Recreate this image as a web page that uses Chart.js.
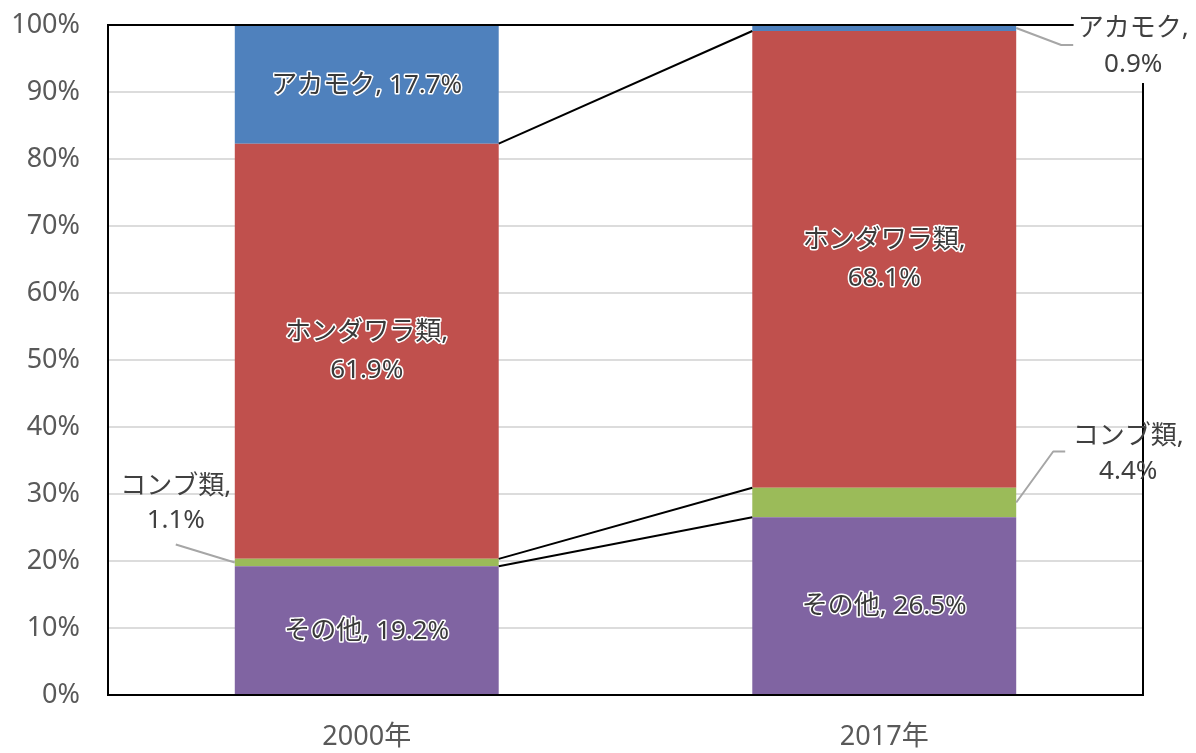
<!DOCTYPE html>
<html lang="ja">
<head>
<meta charset="utf-8">
<script src="https://cdn.jsdelivr.net/npm/chart.js@4/dist/chart.umd.min.js"></script>
<style>
  html, body { margin: 0; padding: 0; background: #fff; }
</style>
</head>
<body>
<canvas id="myChart" width="1196" height="753"></canvas>
<script>
const years = ['2000年', '2017年'];
const seriesNames = ['その他', 'コンブ類', 'ホンダワラ類', 'アカモク'];
const sonota = [19.2, 26.5];
const konbu = [1.1, 4.4];
const hondawara = [61.9, 68.1];
const akamoku = [17.7, 0.9];
const seriesColors = ['#8064A2', '#9BBB59', '#C0504D', '#4F81BD'];

const FONT = '"Noto Sans", "Noto Sans CJK JP", sans-serif';
const raw = [sonota, konbu, hondawara, akamoku];

// 100% stacked: share of each year's total
const totals = years.map((_, j) => raw.reduce((s, arr) => s + arr[j], 0));
const shares = raw.map(arr => arr.map((v, j) => v / totals[j] * 100));

// labels that sit beside the bar with a leader line (series-year)
const callouts = {
    '1-0': { side: -1, dx: 59, y1: -76, y2: -42, lead: [[0, 0], [-59, -18]] },
    '1-1': { side: 1, dx: 112, y1: -66, y2: -31, lead: [[0, 0], [37, -51], [49, -51]] },
    '3-1': { side: 1, dx: 117, y1: 1, y2: 37, lead: [[0, 0], [45, 17], [57, 17]], box: true }
};
const wrapped = [2];

function drawOutlined(ctx, text, x, y) {
    ctx.strokeText(text, x, y);
    ctx.fillText(text, x, y);
}

const plotFrame = {
    id: 'plotFrame',
    afterDatasetsDraw(chart) {
        const a = chart.chartArea;
        const ctx = chart.ctx;
        ctx.save();
        ctx.strokeStyle = '#000';
        ctx.lineWidth = 2;
        ctx.strokeRect(a.left, a.top, a.right - a.left, a.bottom - a.top);

        // series lines between the bars
        chart.data.datasets.forEach((ds, i) => {
            const bars = chart.getDatasetMeta(i).data;
            for (let j = 0; j < bars.length - 1; j++) {
                const p = bars[j], q = bars[j + 1];
                ctx.beginPath();
                ctx.moveTo(p.x + p.width / 2, p.y);
                ctx.lineTo(q.x - q.width / 2, q.y);
                ctx.stroke();
            }
        });
        ctx.restore();
    }
};

const segLabels = {
    id: 'segLabels',
    afterDraw(chart) {
        const ctx = chart.ctx;
        ctx.save();
        ctx.textAlign = 'center';
        ctx.textBaseline = 'middle';
        ctx.lineJoin = 'round';

        raw.forEach((arr, i) => {
            const bars = chart.getDatasetMeta(i).data;
            arr.forEach((v, j) => {
                const bar = bars[j];
                const yc = (bar.y + bar.base) / 2;
                const name = seriesNames[i] + ',';
                const val = v.toFixed(1) + '%';
                const c = callouts[i + '-' + j];
                ctx.font = '26px ' + FONT;
                if (c) {
                    const ex = bar.x + c.side * bar.width / 2;
                    const cx = ex + c.side * c.dx;
                    if (c.box) {
                        const w = Math.max(ctx.measureText(name).width, ctx.measureText(val).width) + 8;
                        ctx.fillStyle = '#fff';
                        ctx.fillRect(cx - w / 2, yc + c.y1 - 18, w, c.y2 - c.y1 + 36);
                    }
                    ctx.strokeStyle = '#a6a6a6';
                    ctx.lineWidth = 2;
                    ctx.beginPath();
                    c.lead.forEach(([dx, dy], k) => {
                        if (k === 0) ctx.moveTo(ex + dx, yc + dy);
                        else ctx.lineTo(ex + dx, yc + dy);
                    });
                    ctx.stroke();
                    ctx.fillStyle = '#404040';
                    ctx.fillText(name, cx, yc + c.y1);
                    ctx.fillText(val, cx, yc + c.y2);
                } else {
                    ctx.strokeStyle = '#fff';
                    ctx.lineWidth = 3;
                    ctx.fillStyle = '#3a3a3a';
                    if (wrapped.includes(i)) {
                        drawOutlined(ctx, name, bar.x, yc - 19);
                        drawOutlined(ctx, val, bar.x, yc + 19);
                    } else {
                        drawOutlined(ctx, seriesNames[i] + ', ' + val, bar.x, yc + 1);
                    }
                }
            });
        });
        ctx.restore();
    }
};

new Chart(document.getElementById('myChart'), {
    type: 'bar',
    data: {
        labels: years,
        datasets: seriesNames.map((name, i) => ({
            label: name,
            data: shares[i],
            backgroundColor: seriesColors[i],
            borderWidth: 0,
            categoryPercentage: 1,
            barPercentage: 0.51
        }))
    },
    options: {
        responsive: false,
        animation: false,
        devicePixelRatio: 1,
        layout: { padding: { top: 25, right: 53, left: 0, bottom: 0 } },
        plugins: {
            legend: { display: false },
            tooltip: { enabled: false }
        },
        scales: {
            x: {
                stacked: true,
                grid: { display: false },
                border: { display: false },
                ticks: { color: '#595959', font: { family: FONT, size: 27 }, padding: 18 },
                afterFit(scale) { scale.height = 58; }
            },
            y: {
                stacked: true,
                min: 0,
                max: 100,
                grid: { color: '#dcdcdc', lineWidth: 2, drawTicks: false },
                border: { display: false },
                ticks: {
                    stepSize: 10,
                    color: '#595959',
                    font: { family: FONT, size: 27 },
                    padding: 28,
                    callback: v => v + '%'
                },
                afterFit(scale) {
                    scale.width = 108;
                    scale.paddingTop = 0;
                    scale.paddingBottom = 0;
                }
            }
        }
    },
    plugins: [plotFrame, segLabels]
});
</script>
</body>
</html>
